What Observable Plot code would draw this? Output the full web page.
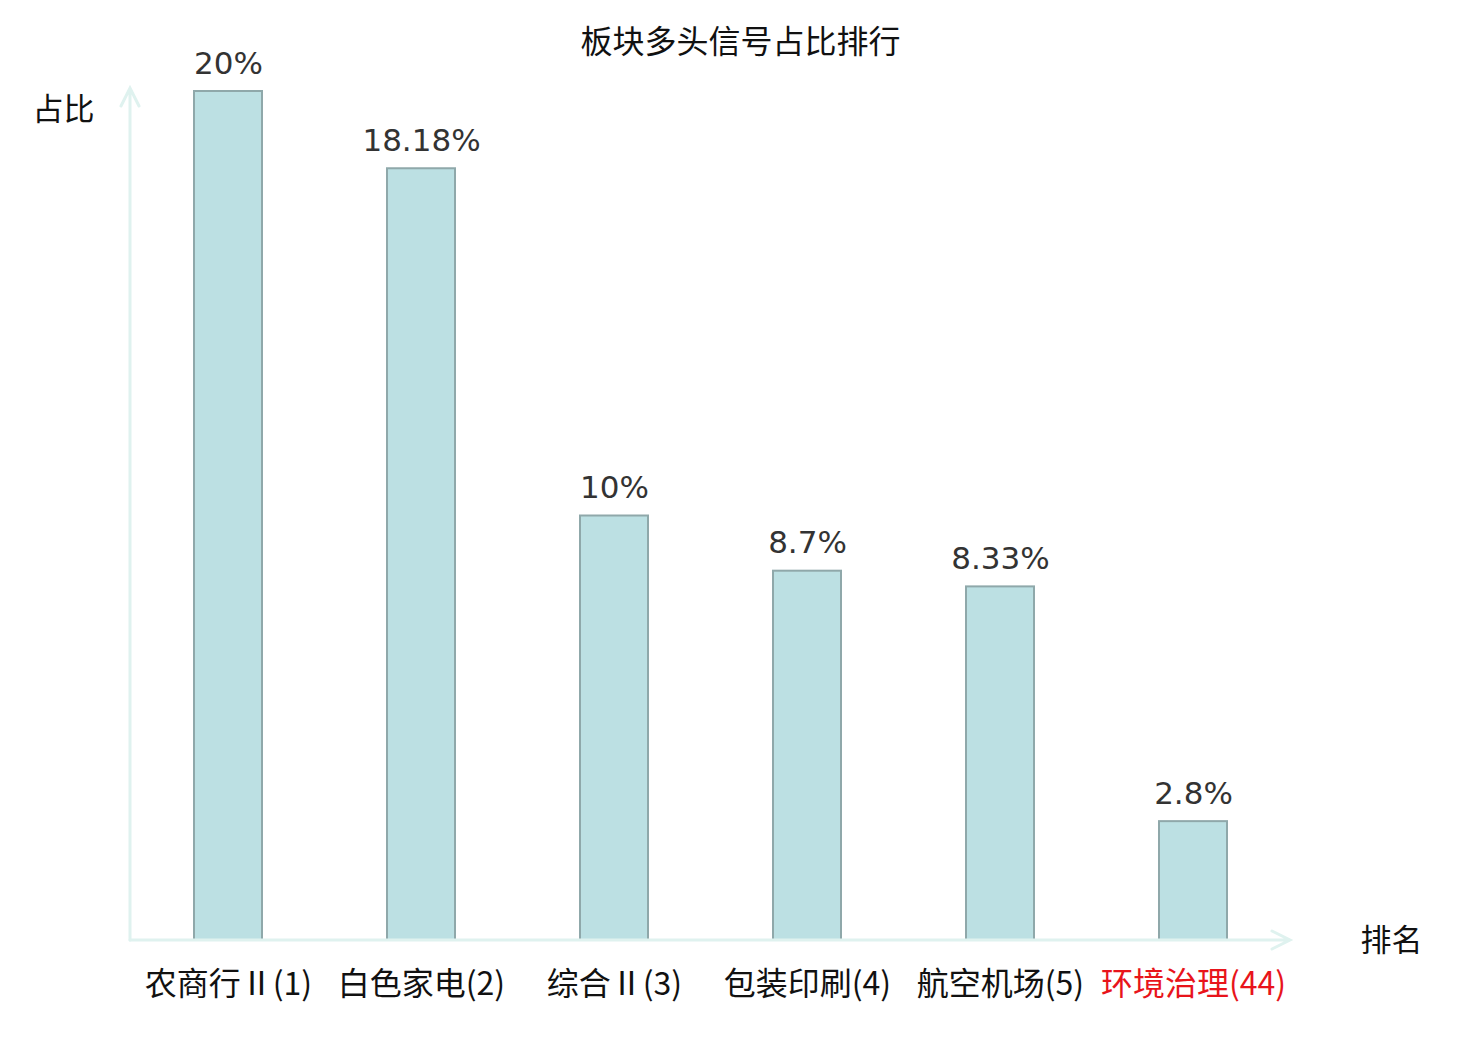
<!DOCTYPE html>
<html>
<head>
<meta charset="utf-8">
<script src="https://cdn.jsdelivr.net/npm/d3@7"></script>
<script src="https://cdn.jsdelivr.net/npm/@observablehq/plot@0.6"></script>
<style>
  html, body { margin: 0; padding: 0; background: #fff; }
  #chart svg { display: block; }
</style>
</head>
<body>
<div id="chart"></div>
<script>
const categories = ["农商行Ⅱ", "白色家电", "综合Ⅱ", "包装印刷", "航空机场", "环境治理"];
const ranks = [1, 2, 3, 4, 5, 44];
const shares = [20, 18.18, 10, 8.7, 8.33, 2.8];
const valueLabels = ["20%", "18.18%", "10%", "8.7%", "8.33%", "2.8%"];
const highlighted = ["环境治理"];

const data = categories.map((c, i) => ({
  name: c,
  label: `${c}(${ranks[i]})`,
  value: shares[i],
  valueLabel: valueLabels[i],
  hl: highlighted.includes(c)
}));

const cjk = "'Noto Sans CJK SC', 'Noto Sans', sans-serif";
const axisColor = "#dff2ef";

// Axis lines with arrows, drawn from the plot's own frame dimensions
function axesWithArrows(index, scales, values, dims) {
  const {width, height, marginLeft, marginRight, marginTop, marginBottom} = dims;
  const x0 = marginLeft, y0 = height - marginBottom;
  const x1 = width - marginRight, y1 = marginTop - 3;
  const g = d3.create("svg:g")
    .attr("stroke", axisColor)
    .attr("stroke-width", 3)
    .attr("fill", "none")
    .attr("stroke-linecap", "round");
  g.append("path").attr("d", `M${x0},${y0}H${x1}M${x1 - 18},${y0 - 9}L${x1},${y0}L${x1 - 18},${y0 + 9}`);
  g.append("path").attr("d", `M${x0},${y0}V${y1}M${x0 - 9},${y1 + 18}L${x0},${y1}L${x0 + 9},${y1 + 18}`);
  return g.node();
}

const chart = Plot.plot({
  width: 1480,
  height: 1040,
  marginLeft: 130,
  marginRight: 190,
  marginTop: 91,
  marginBottom: 100,
  style: {background: "#fff", overflow: "visible"},
  x: {domain: categories, paddingInner: 0.65, paddingOuter: 0.325, axis: null},
  y: {domain: [0, 20], axis: null},
  marks: [
    Plot.barY(data, {x: "name", y: "value", fill: "#bce0e3", stroke: "#8fa8aa", strokeWidth: 2}),
    axesWithArrows,
    Plot.text(data, {x: "name", y: "value", text: "valueLabel", lineAnchor: "bottom", dy: -18,
      fontSize: 31, fill: "#333", fontFamily: "'DejaVu Sans', sans-serif"}),
    Plot.text(data, {x: "name", text: "label", frameAnchor: "bottom", lineAnchor: "bottom", dy: 54,
      fontSize: 32, fontFamily: cjk, fill: d => d.hl ? "#e8141b" : "#111"}),
    Plot.text(["板块多头信号占比排行"], {frameAnchor: "top", lineAnchor: "bottom", dx: 30, dy: -39,
      fontSize: 32, fontFamily: cjk, fill: "#111"}),
    Plot.text(["占比"], {frameAnchor: "top-left", textAnchor: "middle", lineAnchor: "middle", dx: -67, dy: 19,
      fontSize: 31, fontFamily: cjk, fill: "#111"}),
    Plot.text(["排名"], {frameAnchor: "bottom-right", textAnchor: "middle", lineAnchor: "middle", dx: 101, dy: 1,
      fontSize: 31, fontFamily: cjk, fill: "#111"})
  ]
});

document.getElementById("chart").appendChild(chart);
</script>
</body>
</html>
